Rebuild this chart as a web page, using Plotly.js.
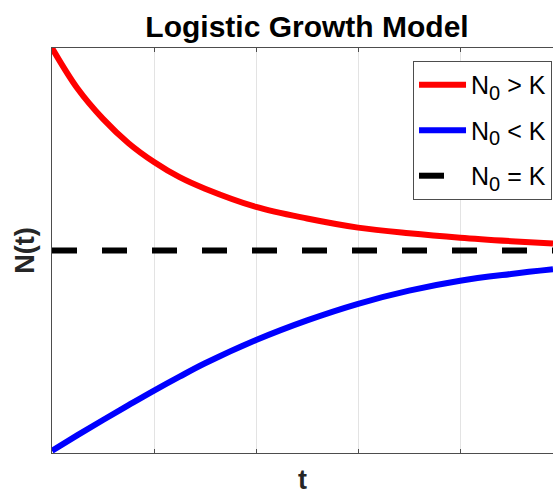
<!DOCTYPE html>
<html>
<head>
<meta charset="utf-8">
<script src="https://cdn.plot.ly/plotly-3.0.1.min.js"></script>
<style>html,body{margin:0;padding:0;background:#fff;overflow:hidden;}#chart{width:553px;height:495px;}</style>
</head>
<body>
<div id="chart"></div>
<script>
// data
const tValues = [0, 0.25, 0.5, 0.75, 1, 1.25, 1.5, 2, 2.5, 3, 3.5, 4, 4.5, 4.91];
const aboveK  = [2.0, 1.80, 1.65, 1.53, 1.437, 1.362, 1.305, 1.215, 1.158, 1.113, 1.085, 1.063, 1.046, 1.034];
const belowK  = [0.011, 0.088, 0.163, 0.236, 0.308, 0.377, 0.443, 0.558, 0.655, 0.737, 0.802, 0.851, 0.884, 0.907];
const tLine   = [0, 4.91];
const atK     = [1, 1];
const seriesNames = [
  'N<sub><span style="font-size:20px">0</span></sub> > K',
  'N<sub><span style="font-size:20px">0</span></sub> &lt; K',
  'N<sub><span style="font-size:20px">0</span></sub> = K'
];
const xTicks = [0, 1, 2, 3, 4];

const traces = [
  {x: tValues, y: aboveK, name: seriesNames[0], mode: 'lines', legendgroup: 'a',
   line: {color: '#ff0000', width: 6, shape: 'spline', smoothing: 1}},
  {x: tValues, y: belowK, name: seriesNames[1], mode: 'lines', legendgroup: 'b',
   line: {color: '#0000ff', width: 6, shape: 'spline', smoothing: 1}},
  {x: tLine, y: atK, name: seriesNames[2], mode: 'lines', legendgroup: 'c',
   line: {color: '#000000', width: 6, dash: '25px,25px'}}
];

const layout = {
  width: 553, height: 495,
  margin: {l: 52, r: 0, t: 48, b: 42, pad: 0},
  paper_bgcolor: '#ffffff', plot_bgcolor: '#ffffff',
  font: {family: 'Liberation Sans, Arial, sans-serif', color: '#000'},
  title: {text: '<b>Logistic Growth Model</b>', font: {size: 30, color: '#000'},
          x: 0.509, xref: 'paper', xanchor: 'center', y: 1 - 26/495, yref: 'container', yanchor: 'middle'},
  xaxis: {range: [0, 4.91], tickvals: xTicks, showticklabels: false, ticks: 'inside', ticklen: 4,
          tickcolor: '#4d4d4d', showline: true, linecolor: '#4d4d4d', linewidth: 1, mirror: 'ticks',
          showgrid: true, gridcolor: '#e3e3e3', gridwidth: 1, zeroline: false,
          title: {text: '<b>t</b>', font: {size: 27, color: '#262626'}, standoff: 22}},
  yaxis: {range: [0, 2], showticklabels: false, ticks: '', showline: true, linecolor: '#4d4d4d',
          linewidth: 1, mirror: false, showgrid: false, zeroline: false,
          title: {text: '<b>N(t)</b>', font: {size: 27, color: '#262626'}, standoff: 8}},
  showlegend: true,
  legend: {x: 0.7206, y: 0.968, xanchor: 'left', yanchor: 'top', bgcolor: '#ffffff',
           bordercolor: '#4d4d4d', borderwidth: 1, font: {size: 25, color: '#000'},
           tracegroupgap: 10, itemwidth: 47, traceorder: 'grouped'}
};

Plotly.newPlot('chart', traces, layout, {staticPlot: true, displayModeBar: false});
</script>
</body>
</html>
